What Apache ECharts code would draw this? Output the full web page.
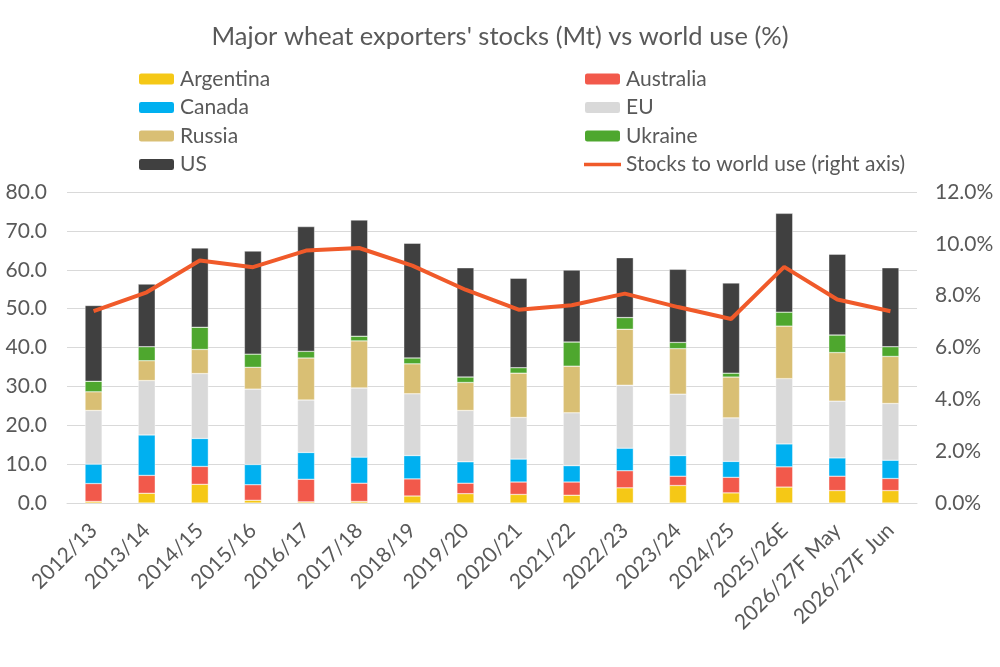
<!DOCTYPE html>
<html>
<head>
<meta charset="utf-8">
<script src="https://cdn.jsdelivr.net/npm/echarts@6/dist/echarts.min.js"></script>
<style>
  html, body { margin: 0; padding: 0; background: #fff; }
  #main { width: 1000px; height: 667px; }
</style>
</head>
<body>
<div id="main"></div>
<script>
const categories = ['2012/13', '2013/14', '2014/15', '2015/16', '2016/17', '2017/18', '2018/19', '2019/20',
    '2020/21', '2021/22', '2022/23', '2023/24', '2024/25', '2025/26E', '2026/27F May', '2026/27F Jun'];

// stocks, Mt
const argentina = [0.4, 2.5, 4.8, 0.7, 0.3, 0.4, 1.8, 2.4, 2.2, 2.0, 3.9, 4.5, 2.6, 4.1, 3.2, 3.2];
const australia = [4.6, 4.6, 4.6, 4.0, 5.8, 4.7, 4.4, 2.7, 3.2, 3.4, 4.4, 2.4, 4.0, 5.2, 3.7, 3.1];
const canada = [5.0, 10.4, 7.2, 5.2, 6.9, 6.7, 6.0, 5.5, 5.9, 4.2, 5.8, 5.3, 4.1, 5.9, 4.7, 4.7];
const eu = [13.8, 14.0, 16.7, 19.4, 13.5, 17.8, 15.9, 13.2, 10.7, 13.6, 16.2, 15.8, 11.2, 16.8, 14.6, 14.6];
const russia = [4.8, 5.1, 6.2, 5.6, 10.8, 12.1, 7.7, 7.2, 11.4, 12.0, 14.4, 11.7, 10.5, 13.5, 12.5, 12.1];
const ukraine = [2.7, 3.6, 5.7, 3.4, 1.7, 1.2, 1.5, 1.4, 1.4, 6.2, 3.0, 1.6, 1.0, 3.6, 4.5, 2.5];
const us = [19.5, 16.1, 20.4, 26.5, 32.1, 29.9, 29.5, 28.1, 23.0, 18.5, 15.4, 18.8, 23.2, 25.4, 20.8, 20.3];

// stocks to world use, %
const stocksToUse = [7.40, 8.13, 9.36, 9.10, 9.74, 9.84, 9.16, 8.23, 7.46, 7.63, 8.08, 7.56, 7.10, 9.11, 7.85, 7.40];

const leftTicks = { min: 0, max: 80, interval: 10 };
const rightTicks = { min: 0, max: 12, interval: 2 };

const chartDom = document.getElementById('main');
const myChart = echarts.init(chartDom);
const FONT = 'Lato';
const TXT = '#595959';
const LINE_COLOR = '#F05A2A';

const barSeries = [
    { name: 'Argentina', data: argentina, color: '#F5C816' },
    { name: 'Australia', data: australia, color: '#F2594B' },
    { name: 'Canada', data: canada, color: '#00B0F0' },
    { name: 'EU', data: eu, color: '#D9D9D9' },
    { name: 'Russia', data: russia, color: '#D9BF74' },
    { name: 'Ukraine', data: ukraine, color: '#4EA72E' },
    { name: 'US', data: us, color: '#404040' }
].map(s => ({
    name: s.name,
    type: 'bar',
    stack: 'stocks',
    barWidth: 17,
    data: s.data,
    itemStyle: { color: s.color, borderColor: '#ffffff', borderWidth: 0.4 },
    emphasis: { disabled: true }
}));

const legendText = { fontFamily: FONT, fontSize: 21, color: TXT, lineHeight: 22 };

const option = {
    animation: false,
    title: {
        text: "Major wheat exporters' stocks (Mt) vs world use (%)",
        left: 'center',
        top: 19,
        textStyle: { fontFamily: FONT, fontSize: 25.5, fontWeight: 'normal', color: TXT }
    },
    legend: [
        {
            orient: 'vertical',
            left: 132,
            top: 63,
            itemWidth: 37,
            itemHeight: 13,
            itemGap: 6.5,
            textStyle: legendText,
            data: ['Argentina', 'Canada', 'Russia', 'US']
        },
        {
            orient: 'vertical',
            left: 578,
            top: 63,
            itemWidth: 37,
            itemHeight: 13,
            itemGap: 6.5,
            textStyle: legendText,
            data: ['Australia', 'EU', 'Ukraine',
                { name: 'Stocks to world use (right axis)', icon: 'path://M0,0H10V1H0Z' }]
        }
    ],
    grid: { left: 67, right: 83, top: 192, bottom: 164, containLabel: false },
    xAxis: {
        type: 'category',
        data: categories,
        axisTick: { show: false },
        axisLine: { lineStyle: { color: '#D9D9D9', width: 1 } },
        axisLabel: {
            interval: 0,
            rotate: 45,
            margin: 24,
            fontFamily: FONT,
            fontSize: 21,
            color: TXT
        }
    },
    yAxis: [
        {
            type: 'value',
            min: leftTicks.min,
            max: leftTicks.max,
            interval: leftTicks.interval,
            axisLine: { show: false },
            axisTick: { show: false },
            splitLine: { lineStyle: { color: '#D9D9D9', width: 1 } },
            axisLabel: {
                margin: 20,
                fontFamily: FONT,
                fontSize: 21,
                color: TXT,
                formatter: v => v.toFixed(1)
            }
        },
        {
            type: 'value',
            min: rightTicks.min,
            max: rightTicks.max,
            interval: rightTicks.interval,
            axisLine: { show: false },
            axisTick: { show: false },
            splitLine: { show: false },
            axisLabel: {
                margin: 18,
                fontFamily: FONT,
                fontSize: 21,
                color: TXT,
                formatter: v => v.toFixed(1) + '%'
            }
        }
    ],
    series: [
        ...barSeries,
        {
            name: 'Stocks to world use (right axis)',
            type: 'line',
            yAxisIndex: 1,
            data: stocksToUse,
            symbol: 'none',
            lineStyle: { color: LINE_COLOR, width: 4 },
            itemStyle: { color: LINE_COLOR },
            emphasis: { disabled: true }
        }
    ]
};

option && myChart.setOption(option);
</script>
</body>
</html>
